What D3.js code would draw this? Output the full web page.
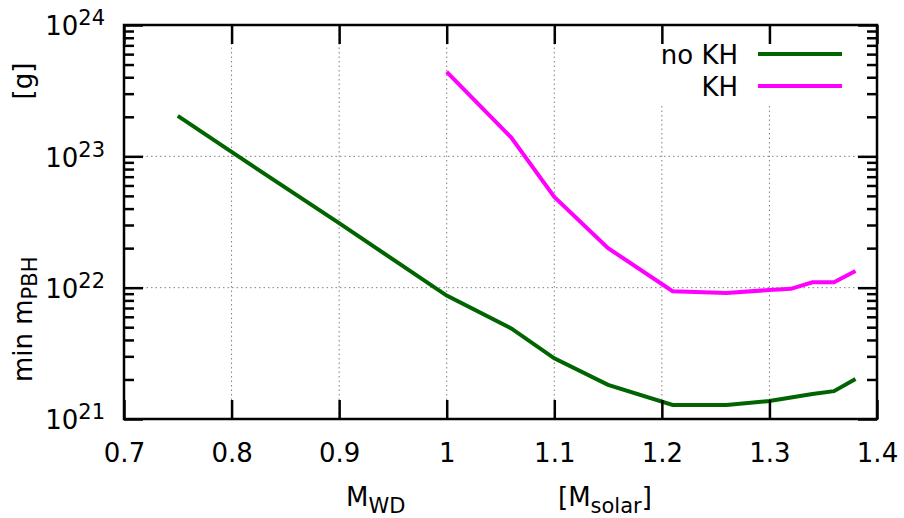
<!DOCTYPE html>
<html>
<head>
<meta charset="utf-8">
<script src="https://cdn.jsdelivr.net/npm/d3@7"></script>
<style>
  html, body { margin: 0; padding: 0; background: #fff; }
  svg { display: block; font-family: "DejaVu Sans", sans-serif; }
</style>
</head>
<body>
<svg id="chart" width="904" height="518"></svg>
<script>
// ---- data ----
const massNoKH = [0.75, 0.80, 0.90, 1.00, 1.06, 1.10, 1.15, 1.21, 1.26, 1.30, 1.32, 1.34, 1.36, 1.38];
const minMassNoKH = [2.03e23, 1.08e23, 3.1e22, 8.7e21, 4.9e21, 2.9e21, 1.82e21, 1.28e21, 1.28e21, 1.37e21, 1.46e21, 1.55e21, 1.63e21, 2.02e21];
const massKH = [1.00, 1.06, 1.10, 1.15, 1.21, 1.26, 1.30, 1.32, 1.34, 1.36, 1.38];
const minMassKH = [4.39e23, 1.39e23, 4.9e22, 2.0e22, 9.4e21, 9.1e21, 9.6e21, 9.8e21, 1.10e22, 1.10e22, 1.34e22];
const xTicks = [0.7, 0.8, 0.9, 1.0, 1.1, 1.2, 1.3, 1.4];
const xTickLabels = ["0.7", "0.8", "0.9", "1", "1.1", "1.2", "1.3", "1.4"];
const yTicks = [1e21, 1e22, 1e23, 1e24];
const yTickExponents = ["21", "22", "23", "24"];
const seriesNames = ["no KH", "KH"];
const seriesColors = ["#006400", "#ff00ff"];

// ---- layout ----
const svg = d3.select("#chart");
const L = 124, R = 877, T = 25, B = 419;
const FS = 26, SUB = 21;

const x = d3.scaleLinear().domain([0.7, 1.4]).range([L, R]);
const y = d3.scaleLog().domain([1e21, 1e24]).range([B, T]);

const minorY = [];
for (let e = 21; e < 24; e++) for (let k = 2; k <= 9; k++) minorY.push(k * Math.pow(10, e));

// grid
const grid = svg.append("g").attr("stroke", "#808080").attr("stroke-width", 1).attr("stroke-dasharray", "1.5,3");
grid.selectAll("line.v").data(xTicks.slice(1, -1)).join("line")
  .attr("x1", d => x(d)).attr("x2", d => x(d)).attr("y1", T).attr("y2", B);
grid.selectAll("line.h").data([1e22, 1e23]).join("line")
  .attr("x1", L).attr("x2", R).attr("y1", d => y(d)).attr("y2", d => y(d));

// legend box (hides grid)
svg.append("rect").attr("x", 645).attr("y", T + 1).attr("width", R - 645 - 1).attr("height", 77).attr("fill", "#fff");

// lines
const line = d3.line().x(d => x(d[0])).y(d => y(d[1]));
const series = [
  d3.zip(massNoKH, minMassNoKH),
  d3.zip(massKH, minMassKH)
];
svg.selectAll("path.series").data(series).join("path")
  .attr("class", "series")
  .attr("d", line)
  .attr("fill", "none")
  .attr("stroke", (d, i) => seriesColors[i])
  .attr("stroke-width", 4)
  .attr("stroke-linejoin", "miter");

// legend
const leg = svg.append("g");
seriesNames.forEach((name, i) => {
  const ly = 54 + i * 32;
  leg.append("text").attr("x", 738).attr("y", ly + 10).attr("text-anchor", "end")
    .attr("font-size", FS).attr("fill", "#000").text(name);
  leg.append("line").attr("x1", 758).attr("x2", 842).attr("y1", ly).attr("y2", ly)
    .attr("stroke", seriesColors[i]).attr("stroke-width", 4);
});

// axes
function styleAxis(g) {
  g.select(".domain").remove();
  g.selectAll(".tick line").attr("stroke", "#000").attr("stroke-width", 2.5);
  g.selectAll("text").attr("fill", "#000");
}
svg.append("g").attr("transform", `translate(0,${B})`)
  .call(d3.axisBottom(x).tickValues(xTicks).tickFormat((d, i) => xTickLabels[i]).tickSizeInner(-19).tickSizeOuter(0).tickPadding(24.5))
  .attr("font-size", FS).attr("font-family", null)
  .call(styleAxis);
svg.append("g").attr("transform", `translate(0,${T})`)
  .call(d3.axisTop(x).tickValues(xTicks).tickFormat("").tickSizeInner(-19).tickSizeOuter(0))
  .call(styleAxis);

const yl = svg.append("g").attr("transform", `translate(${L},0)`)
  .call(d3.axisLeft(y).tickValues(yTicks).tickFormat("").tickSizeInner(-19).tickSizeOuter(0).tickPadding(19))
  .attr("font-size", FS).attr("font-family", null)
  .call(styleAxis);
yl.selectAll(".tick text").each(function(d, i) {
  const t = d3.select(this);
  t.attr("dy", "0.38em");
  t.append("tspan").text("10");
  t.append("tspan").attr("dy", -10).attr("font-size", SUB).text(yTickExponents[i]);
});
svg.append("g").attr("transform", `translate(${L},0)`)
  .call(d3.axisLeft(y).tickValues(minorY).tickFormat("").tickSizeInner(-10).tickSizeOuter(0))
  .call(styleAxis);
svg.append("g").attr("transform", `translate(${R},0)`)
  .call(d3.axisRight(y).tickValues(yTicks).tickFormat("").tickSizeInner(-19).tickSizeOuter(0))
  .call(styleAxis);
svg.append("g").attr("transform", `translate(${R},0)`)
  .call(d3.axisRight(y).tickValues(minorY).tickFormat("").tickSizeInner(-10).tickSizeOuter(0))
  .call(styleAxis);

// border
svg.append("rect").attr("x", L).attr("y", T).attr("width", R - L).attr("height", B - T)
  .attr("fill", "none").attr("stroke", "#000").attr("stroke-width", 2.5);

// axis labels
const xl1 = svg.append("text").attr("x", 346).attr("y", 506).attr("font-size", FS);
xl1.append("tspan").text("M");
xl1.append("tspan").attr("dy", 7).attr("font-size", SUB).text("WD");
const xl2 = svg.append("text").attr("x", 558).attr("y", 506).attr("font-size", FS);
xl2.append("tspan").text("[M");
xl2.append("tspan").attr("dy", 7).attr("font-size", SUB).text("solar");
xl2.append("tspan").attr("dy", -7).text("]");

const ylab = svg.append("text").attr("transform", "translate(32,382) rotate(-90)").attr("font-size", FS);
ylab.append("tspan").text("min m");
ylab.append("tspan").attr("dy", 5).attr("font-size", SUB).text("PBH");
svg.append("text").attr("transform", "translate(32,81) rotate(-90)").attr("text-anchor", "middle")
  .attr("font-size", FS).text("[g]");
</script>
</body>
</html>
